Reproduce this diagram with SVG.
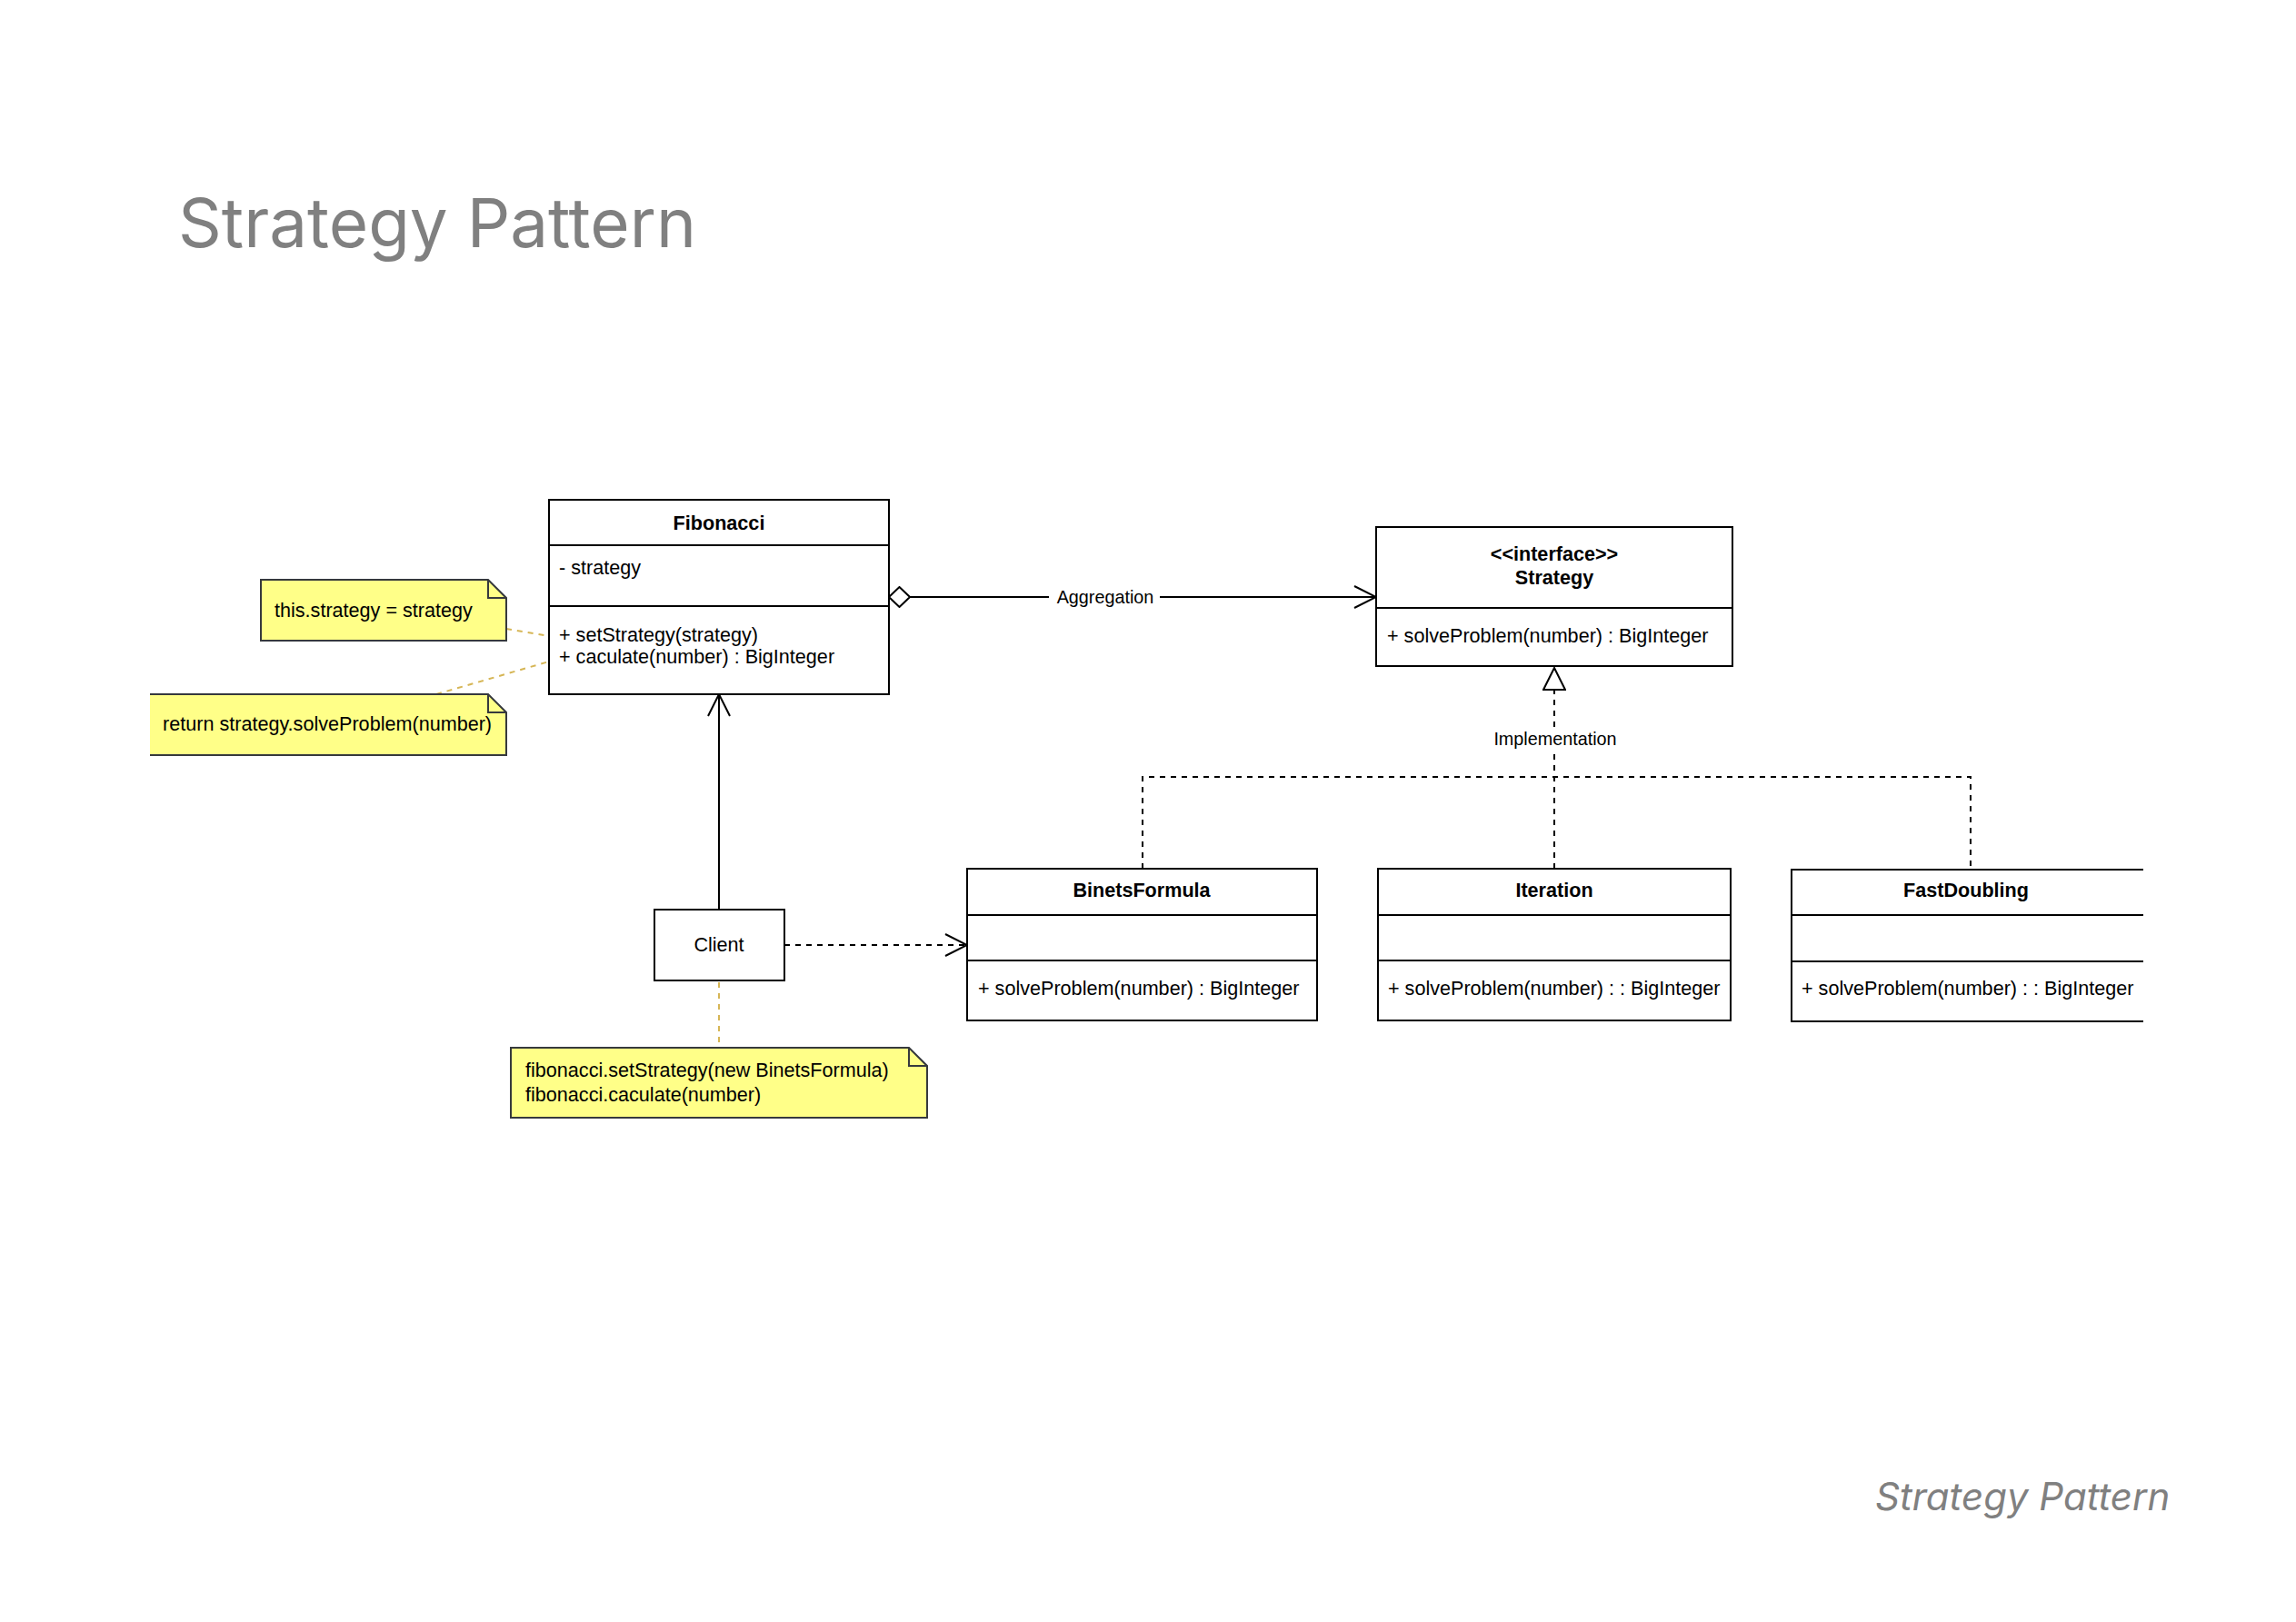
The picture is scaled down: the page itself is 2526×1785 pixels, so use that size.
<svg xmlns="http://www.w3.org/2000/svg" width="2526" height="1785" viewBox="0 0 2526 1785">
<style>
.box{fill:#fff;stroke:#000;stroke-width:2}
.ln{fill:none;stroke:#000;stroke-width:2}
.dash{fill:none;stroke:#000;stroke-width:2;stroke-dasharray:6 6}
.gold{fill:none;stroke:#D6B656;stroke-width:2;stroke-dasharray:6 6}
.note{fill:#FFFF88}
.noteb{fill:none;stroke:#36393d;stroke-width:2}
.t{font-family:"Liberation Sans",Arial,sans-serif;font-size:21.6px;fill:#000}
.b{font-weight:bold}
.m{text-anchor:middle}
.lbl{font-family:"Liberation Sans",Arial,sans-serif;font-size:19.8px;fill:#000;text-anchor:middle}
.title{font-family:Inter,"Liberation Sans",sans-serif;fill:#808080}
</style>
<defs>
<marker id="open" viewBox="0 0 26 26" refX="25" refY="13" markerWidth="26" markerHeight="26" markerUnits="userSpaceOnUse" orient="auto">
<path d="M1,1 L25,13 L1,25" fill="none" stroke="#000" stroke-width="2"/>
</marker>
<marker id="tri" viewBox="0 0 26 26" refX="25" refY="13" markerWidth="26" markerHeight="26" markerUnits="userSpaceOnUse" orient="auto">
<path d="M1,1 L25,13 L1,25 Z" fill="#fff" stroke="#000" stroke-width="2"/>
</marker>
<marker id="dia" viewBox="0 0 25 24" refX="1" refY="12" markerWidth="25" markerHeight="24" markerUnits="userSpaceOnUse" orient="auto">
<path d="M1,12 L12.5,1 L24,12 L12.5,23 Z" fill="#fff" stroke="#000" stroke-width="2"/>
</marker>
</defs>
<rect width="2526" height="1785" fill="#fff"/>
<text class="title" x="196" y="272" font-size="74.5">Strategy Pattern</text>
<text class="title" x="2063" y="1662" font-size="42" font-style="italic">Strategy Pattern</text>

<g id="connectors">
<path class="gold" d="M557,692 L604,700"/>
<path class="gold" d="M480,764 L604,728"/>
<path class="gold" d="M791,1081 L791,1153"/>
<path class="ln" d="M978,657 L1514,657" marker-start="url(#dia)" marker-end="url(#open)"/>
<rect x="1154" y="642" width="122" height="26" fill="#fff"/>
<text class="lbl" x="1216" y="664">Aggregation</text>
<path class="ln" d="M791,1001 L791,764" marker-end="url(#open)"/>
<path class="dash" d="M863,1040 L1064,1040" marker-end="url(#open)"/>
<path class="dash" d="M1257,956 V855 H2168 V957"/>
<path class="dash" d="M1710,956 V735" marker-end="url(#tri)"/>
<rect x="1642" y="801" width="138" height="26" fill="#fff"/>
<text class="lbl" x="1711" y="820">Implementation</text>
</g>

<g id="note-setstrategy">
<path class="note" d="M287,638 H537 L557,658 V705 H287 Z"/>
<path class="noteb" d="M287,638 H537 L557,658 V705 H287 Z M537,638 V658 H557"/>
<text class="t" x="302" y="679">this.strategy = strategy</text>
</g>

<g id="note-caculate">
<path class="note" d="M165,764 H537 L557,784 V831 H165 Z"/>
<path class="noteb" d="M165,764 H537 L557,784 V831 H165 M537,764 V784 H557"/>
<text class="t" x="179" y="804">return strategy.solveProblem(number)</text>
</g>

<g id="fibonacci">
<rect class="box" x="604" y="550" width="374" height="214"/>
<path class="ln" d="M604,600 H978 M604,667 H978"/>
<text class="t b m" x="791" y="583">Fibonacci</text>
<text class="t" x="615" y="632">- strategy</text>
<text class="t" x="615" y="706">+ setStrategy(strategy)</text>
<text class="t" x="615" y="730">+ caculate(number) : BigInteger</text>
</g>

<g id="strategy">
<rect class="box" x="1514" y="580" width="392" height="153"/>
<path class="ln" d="M1514,669 H1906"/>
<text class="t b m" x="1710" y="617">&lt;&lt;interface&gt;&gt;</text>
<text class="t b m" x="1710" y="643">Strategy</text>
<text class="t" x="1526" y="707">+ solveProblem(number) : BigInteger</text>
</g>

<g id="client">
<rect class="box" x="720" y="1001" width="143" height="78"/>
<text class="t m" x="791" y="1047">Client</text>
</g>

<g id="note-client">
<path class="note" d="M562,1153 H1000 L1020,1173 V1230 H562 Z"/>
<path class="noteb" d="M562,1153 H1000 L1020,1173 V1230 H562 Z M1000,1153 V1173 H1020"/>
<text class="t" x="578" y="1185">fibonacci.setStrategy(new BinetsFormula)</text>
<text class="t" x="578" y="1212">fibonacci.caculate(number)</text>
</g>

<g id="binetsformula">
<rect class="box" x="1064" y="956" width="385" height="167"/>
<path class="ln" d="M1064,1007 H1449 M1064,1057 H1449"/>
<text class="t b m" x="1256" y="987">BinetsFormula</text>
<text class="t" x="1076" y="1095">+ solveProblem(number) : BigInteger</text>
</g>

<g id="iteration">
<rect class="box" x="1516" y="956" width="388" height="167"/>
<path class="ln" d="M1516,1007 H1904 M1516,1057 H1904"/>
<text class="t b m" x="1710" y="987">Iteration</text>
<text class="t" x="1527" y="1095">+ solveProblem(number) : : BigInteger</text>
</g>

<g id="fastdoubling">
<rect x="1971" y="957" width="387" height="167" fill="#fff"/>
<path class="ln" d="M2358,957 H1971 V1124 H2358 M1971,1007 H2358 M1971,1058 H2358"/>
<text class="t b m" x="2163" y="987">FastDoubling</text>
<text class="t" x="1982" y="1095">+ solveProblem(number) : : BigInteger</text>
</g>
</svg>
